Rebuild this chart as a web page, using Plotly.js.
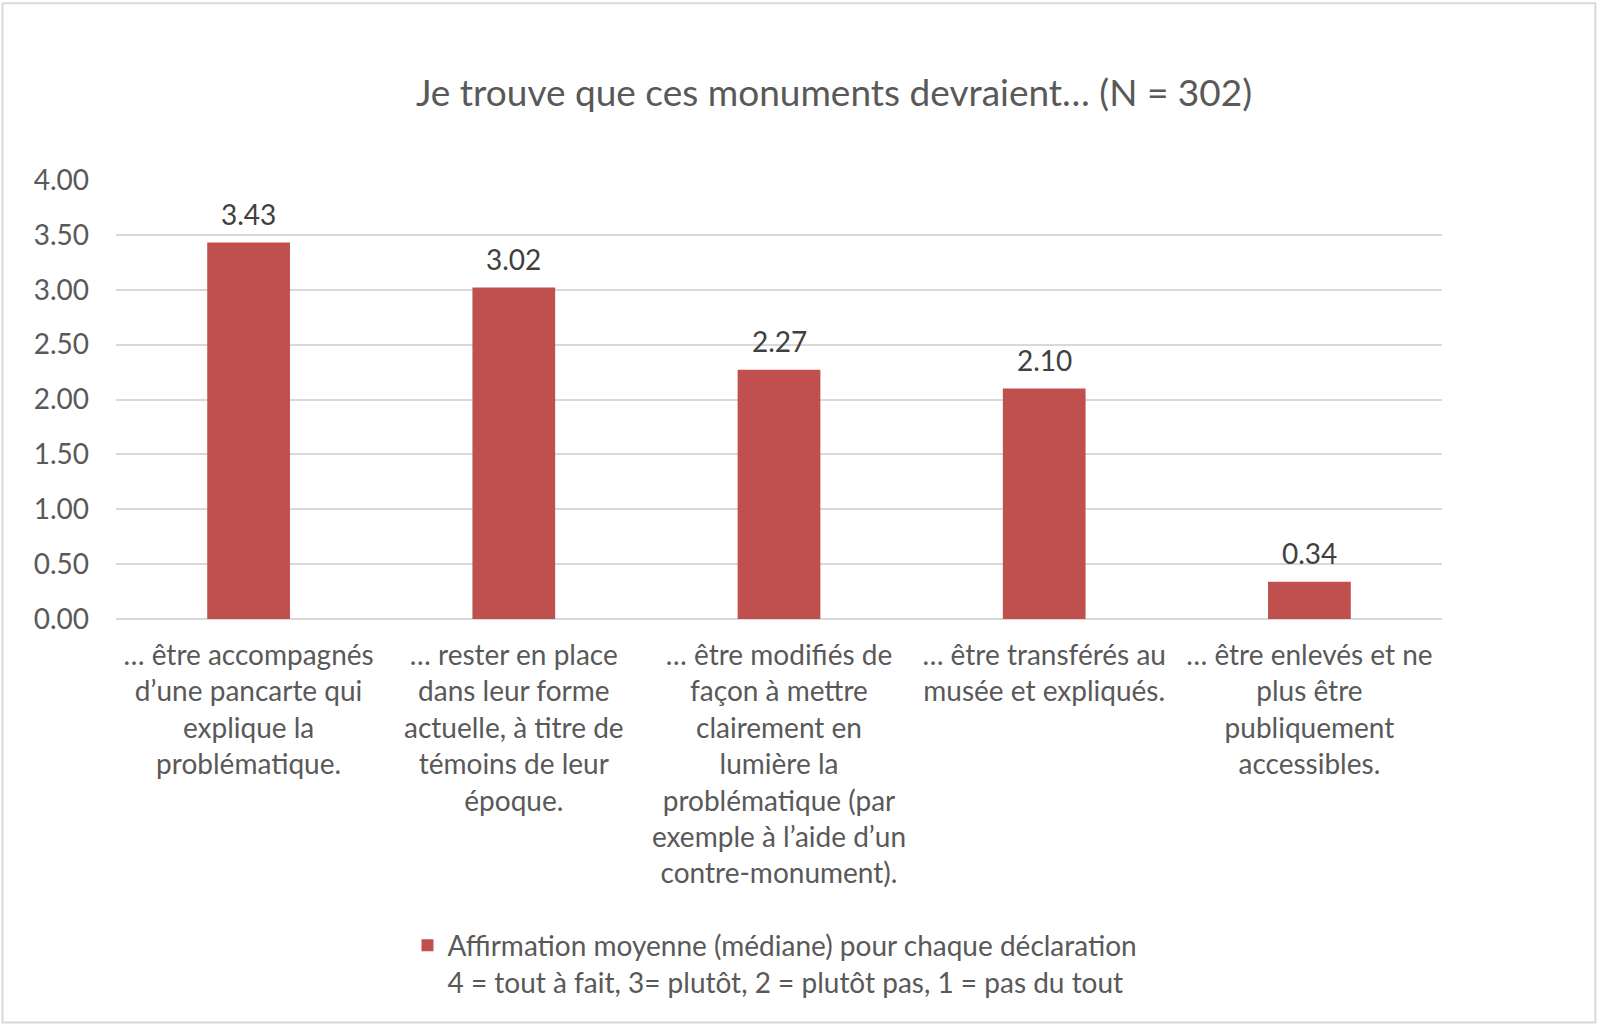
<!DOCTYPE html>
<html><head><meta charset="utf-8">
<script src="https://cdn.plot.ly/plotly-3.0.1.min.js"></script>
<style>html,body{margin:0;padding:0;background:#fff;overflow:hidden;width:1600px;height:1031px;}#chart{width:1600px;height:1031px;overflow:hidden;}</style>
</head><body><div id="chart"></div>
<script>
const categories = [
  "… être accompagnés<br>d’une pancarte qui<br>explique la<br>problématique.",
  "… rester en place<br>dans leur forme<br>actuelle, à titre de<br>témoins de leur<br>époque.",
  "… être modifiés de<br>façon à mettre<br>clairement en<br>lumière la<br>problématique (par<br>exemple à l’aide d’un<br>contre-monument).",
  "… être transférés au<br>musée et expliqués.",
  "… être enlevés et ne<br>plus être<br>publiquement<br>accessibles."
];
const values = [3.43, 3.02, 2.27, 2.10, 0.34];
const seriesName = "Affirmation moyenne (médiane) pour chaque déclaration<br>4 = tout à fait, 3= plutôt, 2 = plutôt pas, 1 = pas du tout";
const yTicks = [0, 0.5, 1, 1.5, 2, 2.5, 3, 3.5, 4];
const titleText = "Je trouve que ces monuments devraient… (N = 302)";

const W = 1600, H = 1031;
const L = 115.5, R = 1441.6, T = 179.8, B = 619.2;
const pw = R - L, ph = B - T;
const px = x => (x - L) / pw;
const py = y => (B - y) / ph;

const FONT = "Lato, 'Open Sans', sans-serif";
const FS = 28;

const trace = {
  type: "bar",
  x: categories.map((c, i) => i),
  y: values,
  name: seriesName,
  marker: {color: "#c0504d"},
  hoverinfo: "skip"
};

const annotations = values.map((v, i) => ({
  x: i, y: v, xref: "x", yref: "y",
  text: v.toFixed(2), showarrow: false,
  yanchor: "bottom", yshift: 10,
  font: {family: FONT, size: FS, color: "#404040"}
}));

const layout = {
  width: W, height: H,
  margin: {l: L, r: W - R, t: T, b: H - B, pad: 0},
  paper_bgcolor: "#fff", plot_bgcolor: "#fff",
  font: {family: FONT, color: "#595959"},
  title: {text: titleText, font: {family: FONT, size: 37, color: "#595959"},
          x: 834 / W, xref: "container", xanchor: "center",
          y: 1 - 93 / H, yref: "container", yanchor: "middle"},
  bargap: 0.688,
  xaxis: {
    tickmode: "array", tickvals: categories.map((c, i) => i), ticktext: categories,
    range: [-0.5, 4.5], showgrid: false, zeroline: false, showline: false,
    ticks: "", tickfont: {family: FONT, size: FS, color: "#595959"},
    ticklabelstandoff: 17, fixedrange: true
  },
  yaxis: {
    range: [0, 4], tickmode: "array", tickvals: yTicks,
    ticktext: yTicks.map(v => v.toFixed(2)),
    showgrid: true, gridcolor: "#d9d9d9", gridwidth: 2,
    zeroline: true, zerolinecolor: "#d9d9d9", zerolinewidth: 2,
    showline: false, ticks: "",
    tickfont: {family: FONT, size: FS, color: "#595959"},
    ticklabelstandoff: 26, fixedrange: true
  },
  showlegend: true,
  legend: {
    x: px(407), y: py(921), xanchor: "left", yanchor: "top",
    orientation: "v", valign: "top", itemwidth: 30,
    font: {family: FONT, size: FS, color: "#595959"},
    bgcolor: "rgba(0,0,0,0)"
  },
  annotations: annotations,
  shapes: [{
    type: "rect", xref: "paper", yref: "paper",
    x0: px(2), x1: px(1595), y0: py(1023), y1: py(3),
    line: {color: "#d9d9d9", width: 2}, fillcolor: "rgba(0,0,0,0)", layer: "below"
  }]
};

Plotly.newPlot("chart", [trace], layout, {displayModeBar: false, staticPlot: true});
</script></body></html>
